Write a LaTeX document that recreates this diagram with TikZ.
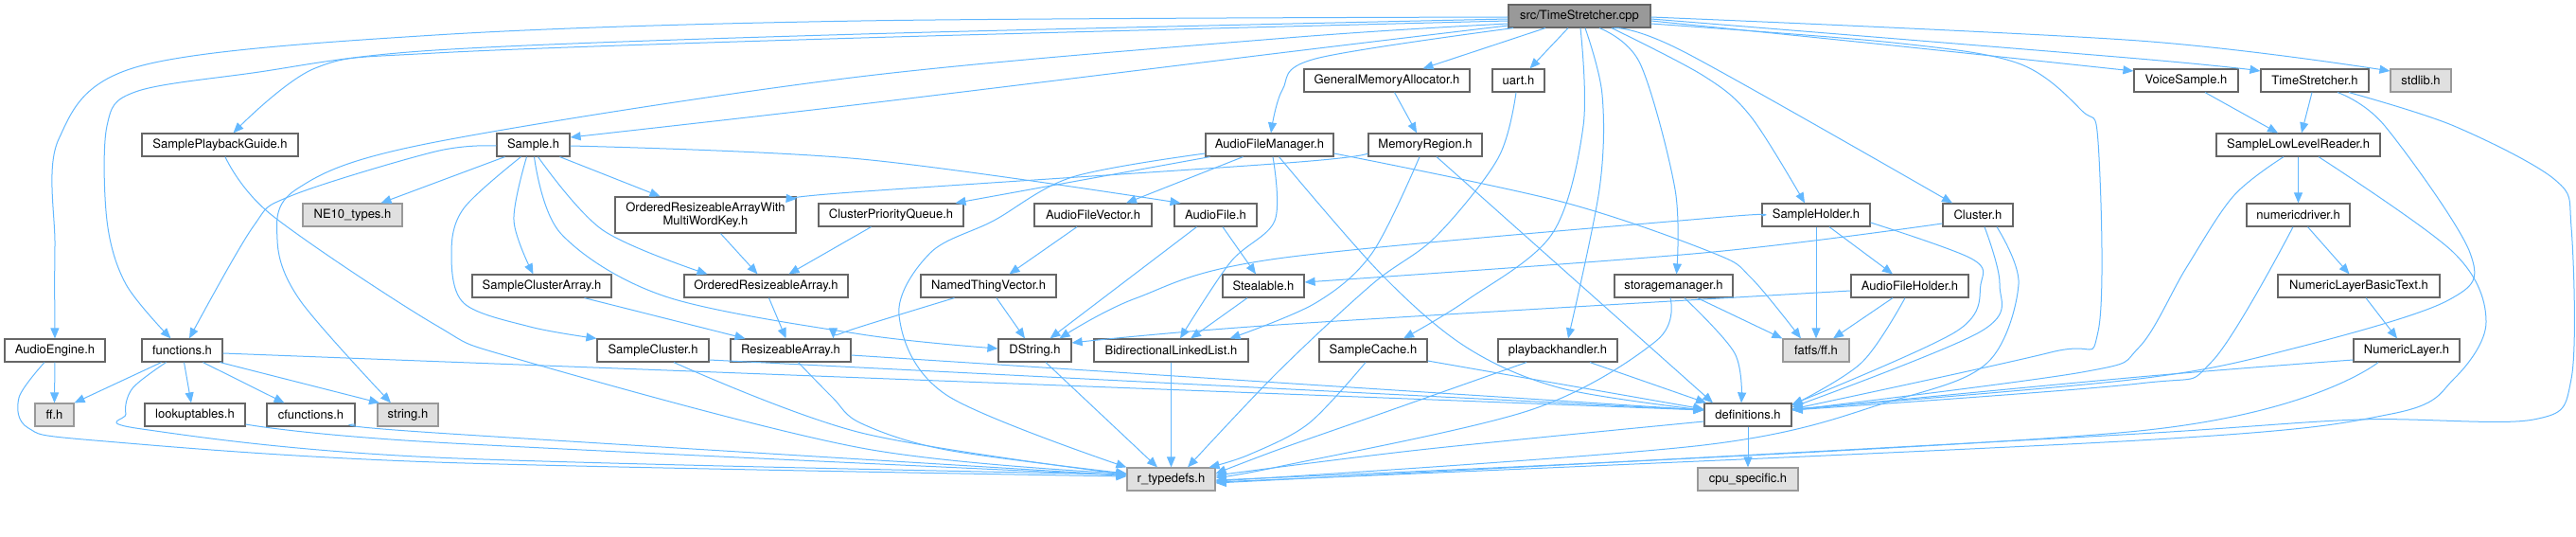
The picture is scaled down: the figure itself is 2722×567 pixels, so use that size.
\documentclass[tikz,border=0pt]{standalone}
\usepackage{fontspec}
\setmainfont{TeX Gyre Heros}
\usetikzlibrary{arrows.meta}
\definecolor{edgec}{HTML}{63B8FF}
\definecolor{boxline}{HTML}{666666}
\definecolor{extfill}{HTML}{E0E0E0}
\definecolor{extline}{HTML}{999999}
\definecolor{rootfill}{HTML}{999999}
\newcommand\dep[1]{\draw[edge] plot[smooth,tension=0.55] coordinates {#1};}
\begin{document}
\begin{tikzpicture}[x=1pt,y=-1pt,
 box/.style={draw=boxline, fill=white, line width=1.2pt, minimum height=24pt, inner sep=0pt, font=\fontsize{13}{15}\selectfont},
 ext/.style={box, fill=extfill, draw=extline},
 root/.style={box, fill=rootfill, draw=boxline},
 edge/.style={draw=edgec, line width=1pt, -{Triangle[length=11pt,width=9pt]}}]
\useasboundingbox (0,0) rectangle (2722,567);
% nodes
\node[root, minimum width=150pt] (cpp) at (1669,17) {src/TimeStretcher.cpp};
\node[box, minimum width=175pt] (gma) at (1465.5,85) {GeneralMemoryAllocator.h};
\node[box, minimum width=55pt] (uart) at (1604.5,85) {uart.h};
\node[box, minimum width=110pt] (vs) at (2310,85) {VoiceSample.h};
\node[box, minimum width=114pt] (tsh) at (2446,85) {TimeStretcher.h};
\node[ext, minimum width=64pt] (stdlib) at (2558,85) {stdlib.h};
\node[box, minimum width=165pt] (spg) at (232.5,153) {SamplePlaybackGuide.h};
\node[box, minimum width=77pt] (sample) at (563.5,153) {Sample.h};
\node[box, minimum width=135pt] (afm) at (1341.5,153) {AudioFileManager.h};
\node[box, minimum width=120pt] (memr) at (1506,153) {MemoryRegion.h};
\node[box, minimum width=173pt] (sllr) at (2428.5,153) {SampleLowLevelReader.h};
\node[ext, minimum width=105pt] (ne10) at (372.5,227) {NE10\_types.h};
\node[box, minimum width=191pt, minimum height=38pt, align=center, font=\fontsize{13}{14}\selectfont] (orawm) at (745.5,227) {OrderedResizeableArrayWith\\MultiWordKey.h};
\node[box, minimum width=153pt] (cpq) at (941.5,227) {ClusterPriorityQueue.h};
\node[box, minimum width=124pt] (afv) at (1155,227) {AudioFileVector.h};
\node[box, minimum width=87pt] (afile) at (1284.5,227) {AudioFile.h};
\node[box, minimum width=114pt] (sholder) at (1919,227) {SampleHolder.h};
\node[box, minimum width=74pt] (cluster) at (2090,227) {Cluster.h};
\node[box, minimum width=109pt] (ndrv) at (2428.5,227) {numericdriver.h};
\node[box, minimum width=147pt] (sca) at (572.5,302) {SampleClusterArray.h};
\node[box, minimum width=173pt] (ora) at (809.5,302) {OrderedResizeableArray.h};
\node[box, minimum width=143pt] (ntv) at (1044.5,302) {NamedThingVector.h};
\node[box, minimum width=86pt] (steal) at (1335,302) {Stealable.h};
\node[box, minimum width=125pt] (stor) at (1768.5,302) {storagemanager.h};
\node[box, minimum width=124pt] (afh) at (2018,302) {AudioFileHolder.h};
\node[box, minimum width=171pt] (nlbt) at (2492.5,302) {NumericLayerBasicText.h};
\node[box, minimum width=106pt] (aeng) at (58,370) {AudioEngine.h};
\node[box, minimum width=85pt] (func) at (192.5,370) {functions.h};
\node[box, minimum width=118pt] (scl) at (690,370) {SampleCluster.h};
\node[box, minimum width=127pt] (rarr) at (835.5,370) {ResizeableArray.h};
\node[box, minimum width=77pt] (dstr) at (1093.5,370) {DString.h};
\node[box, minimum width=163pt] (bll) at (1237.5,370) {BidirectionalLinkedList.h};
\node[box, minimum width=114pt] (scache) at (1451,370) {SampleCache.h};
\node[box, minimum width=126pt] (pbh) at (1646,370) {playbackhandler.h};
\node[ext, minimum width=70pt] (fatfs) at (1919,370) {fatfs/ff.h};
\node[box, minimum width=112pt] (nlayer) at (2543,370) {NumericLayer.h};
\node[ext, minimum width=41pt] (ffh) at (57.5,438) {ff.h};
\node[box, minimum width=106pt] (lut) at (206,438) {lookuptables.h};
\node[box, minimum width=93pt] (cfunc) at (328.5,438) {cfunctions.h};
\node[ext, minimum width=64pt] (strh) at (431,438) {string.h};
\node[box, minimum width=92pt] (defs) at (1847,438) {definitions.h};
\node[ext, minimum width=93pt] (rtd) at (1237.5,506) {r\_typedefs.h};
\node[ext, minimum width=106pt] (cpu) at (1847,506) {cpu\_specific.h};
% edges from cpp
\dep{([yshift=-1]cpp.west) (910,22) (460,37) (147,70) (62,147) (58,260) (aeng.north)}
\dep{([yshift=-3]cpp.west) (910,36) (460,53) (267,77) (143,97) (113,133) (113,233) (133,300) ([xshift=-12]func.north)}
\dep{([yshift=-5]cpp.west) (910,40) (460,56) (333,72) ([xshift=14]spg.north)}
\dep{([yshift=-8]cpp.west) (1360,40) (900,82) (450,152) (313,200) (293,253) (317,317) ([xshift=-18]strh.north)}
\dep{([yshift=-10]cpp.west) (1360,55) (910,110) ([yshift=8]sample.east)}
\dep{([xshift=-70]cpp.south) (1390,62) (1355,95) ([xshift=1.5]afm.north)}
\draw[edge] ([xshift=-36]cpp.south) -- ([xshift=38]gma.north);
\draw[edge] ([xshift=-12]cpp.south) -- ([xshift=12]uart.north);
\dep{([xshift=1]cpp.south) (1673,133) (1640,247) (1550,317) ([xshift=32]scache.north)}
\dep{([xshift=6]cpp.south) (1693,100) (1690,200) ([xshift=11]pbh.north)}
\dep{([xshift=21]cpp.south) (1733,67) (1770,200) ([xshift=3]stor.north)}
\dep{([xshift=34]cpp.south) (1800,80) (1850,123) ([xshift=-12]sholder.north)}
\dep{([xshift=36]cpp.south) (1780,55) ([xshift=-27]cluster.north)}
\dep{([yshift=-8]cpp.east) (2000,45) (2133,67) (2200,117) (2217,150) (2217,350) (2167,372) ([yshift=6]defs.east)}
\dep{([yshift=-5]cpp.east) (2000,48) ([yshift=10]vs.west)}
\dep{([yshift=-3]cpp.east) (2260,62) ([yshift=10]tsh.west)}
\dep{([yshift=-1]cpp.east) (2260,43) ([yshift=10]stdlib.west)}
% left side
\draw[edge] (aeng.south) -- (ffh.north);
\dep{([xshift=-11]aeng.south) (20,420) (30,452) (100,465) (460,488) ([yshift=3]rtd.west)}
\draw[edge] ([xshift=-22]func.south) -- (ffh.north east);
\draw[edge] ([xshift=2]func.south) -- ([xshift=-4]lut.north);
\draw[edge] ([xshift=22]func.south) -- ([xshift=-28]cfunc.north);
\draw[edge] ([xshift=40]func.south) -- ([xshift=-30]strh.north);
\dep{([xshift=-17]func.south) (140,410) (133,437) (150,453) (460,483) ([yshift=5]rtd.west)}
\draw[edge] ([yshift=-3]func.east) -- ([yshift=5]defs.west);
\dep{([yshift=-10]lut.east) (460,467) ([yshift=4]rtd.west)}
\dep{([yshift=-10]cfunc.east) (460,457) ([yshift=4]rtd.west)}
\dep{([xshift=5.5]spg.south) (287,227) (460,343) (550,380) (910,473) ([yshift=6]rtd.west)}
% Sample.h
\dep{([yshift=-1]sample.west) (460,160) (307,207) (267,240) ([xshift=7.5]func.north)}
\draw[edge] ([xshift=-30]sample.south) -- ([xshift=30]ne10.north);
\draw[edge] ([xshift=28]sample.south) -- ([xshift=-48]orawm.north);
\dep{([xshift=5]sample.south) (637,243) ([xshift=-62]ora.north)}
\dep{([xshift=-7]sample.south) (543,233) ([xshift=-9]sca.north)}
\dep{([xshift=-13]sample.south) (490,220) (477,267) (490,320) (560,345) (scl.north west)}
\dep{([xshift=1]sample.south) (593,247) (703,313) (910,353) ([yshift=2]dstr.west)}
\dep{([yshift=-1]sample.east) (910,168) ([xshift=-37]afile.north)}
\draw[edge] ([xshift=16]orawm.south) -- ([xshift=-9]ora.north);
\draw[edge] ([xshift=-21]cpq.south) -- ([xshift=24]ora.north);
\draw[edge] ([xshift=3]ora.south) -- ([xshift=-5]rarr.north);
\draw[edge] ([xshift=45]sca.south) -- ([xshift=-48]rarr.north);
\dep{([xshift=-36]ntv.south) (900,348) ([xshift=45]rarr.north)}
\dep{([xshift=8]rarr.south) (880,420) (910,447) (1000,475) ([yshift=6]rtd.west)}
\draw[edge] ([yshift=-5]rarr.east) -- ([yshift=5]defs.west);
\dep{([xshift=22]scl.south) (910,457) ([yshift=5]rtd.west)}
\draw[edge] ([yshift=-10]scl.east) -- ([yshift=5]defs.west);
% AudioFileManager
\draw[edge] ([xshift=-63]afm.south) -- ([xshift=68]cpq.north);
\draw[edge] ([xshift=-28]afm.south) -- ([xshift=35]afv.north);
\dep{([yshift=-9]afm.west) (1133,187) (1050,233) (983,267) (950,333) (1000,417) (rtd.north west)}
\dep{([xshift=3.5]afm.south) (1347,233) (1300,277) ([xshift=9.5]bll.north)}
\dep{([xshift=10]afm.south) (1460,290) (1550,367) (1650,410) ([yshift=5]defs.west)}
\dep{([yshift=-9]afm.east) (1650,213) (1810,267) (1850,293) ([xshift=-16]fatfs.north)}
\dep{([yshift=-9]memr.west) (1360,172) (900,203) ([yshift=17]orawm.east)}
\dep{([xshift=-6]memr.south) (1450,267) (1390,320) ([xshift=62]bll.north)}
\draw[edge] ([xshift=12]memr.south) -- ([xshift=-37]defs.north);
\draw[edge] ([xshift=8]gma.south) -- ([xshift=-9]memr.north);
\dep{([xshift=-2.5]uart.south) (1583,167) (1517,250) (1450,300) (1350,393) ([xshift=17.5]rtd.north)}
\draw[edge] ([xshift=-20]afile.south) -- ([xshift=16]dstr.north);
\draw[edge] ([xshift=7.5]afile.south) -- ([xshift=-8]steal.north);
\draw[edge] ([xshift=-17]afv.south) -- ([xshift=22]ntv.north);
\draw[edge] ([xshift=8.5]ntv.south) -- ([xshift=-10.5]dstr.north);
\draw[edge] ([xshift=-17]steal.south) -- ([xshift=20.5]bll.north);
\draw[edge] ([xshift=11.5]dstr.south) -- ([xshift=-14.5]rtd.north);
\draw[edge] (bll.south) -- (rtd.north);
\dep{([xshift=-8]scache.south) (1383,447) (1320,480) ([xshift=40]rtd.north)}
\draw[edge] ([yshift=-11]scache.east) -- ([yshift=6]defs.west);
\dep{([xshift=-33]pbh.south) (1450,440) (1350,475) ([yshift=6]rtd.east)}
\draw[edge] ([xshift=34]pbh.south) -- ([xshift=-44]defs.north);
\dep{([xshift=-3.5]stor.south) (1750,360) (1617,433) (1350,493) ([yshift=2]rtd.east)}
\dep{([xshift=11.5]stor.south) (1833,373) ([xshift=-7]defs.north)}
\draw[edge] ([xshift=25]stor.south) -- (fatfs.north west);
\dep{([yshift=-1]sholder.west) (1810,230) (1350,273) (1200,315) ([xshift=26]dstr.north)}
\draw[edge] (sholder.south) -- (fatfs.north);
\draw[edge] ([xshift=14]sholder.south) -- ([xshift=-18]afh.north);
\dep{([yshift=-8]sholder.east) (2083,273) (2093,300) (2067,350) ([yshift=11]defs.east)}
\dep{([yshift=-5]afh.west) (1350,343) ([yshift=8]dstr.east)}
\draw[edge] ([xshift=-18]afh.south) -- ([xshift=18]fatfs.north);
\dep{([xshift=-5]afh.south) (1967,383) ([yshift=10]defs.east)}
\dep{([yshift=-9]cluster.west) (1800,267) ([yshift=4]steal.east)}
\dep{([xshift=7]cluster.south) (2113,300) (2093,350) ([yshift=8]defs.east)}
\dep{([xshift=20]cluster.south) (2133,300) (2100,383) (2000,423) (1800,470) ([yshift=-2]rtd.east)}
\draw[edge] (defs.south) -- (cpu.north);
\dep{([yshift=-7]defs.west) (1500,475) ([yshift=4]rtd.east)}
% right side
\draw[edge] ([xshift=20]vs.south) -- ([xshift=-21.5]sllr.north);
\draw[edge] ([xshift=-3]tsh.south) -- ([xshift=3.5]sllr.north);
\dep{([xshift=24]tsh.south) (2520,133) (2610,267) (2587,317) (2427,367) (2260,400) ([yshift=6]defs.east)}
\dep{([xshift=36]tsh.south) (2593,133) (2700,190) (2717,240) (2717,400) (2677,443) (2493,443) (2260,458) (1800,483) ([yshift=-4]rtd.east)}
\draw[edge] (sllr.south) -- (ndrv.north);
\dep{([xshift=-15.5]sllr.south) (2360,207) (2310,283) (2260,367) (2200,393) ([yshift=5]defs.east)}
\dep{([xshift=21.5]sllr.south) (2593,267) (2627,340) (2593,400) (2527,437) (2260,465) ([yshift=-3]rtd.east)}
\draw[edge] ([xshift=10]ndrv.south) -- ([xshift=-10]nlbt.north);
\dep{([xshift=-5.5]ndrv.south) (2337,382) (2260,405) ([yshift=5]defs.east)}
\draw[edge] ([xshift=7.5]nlbt.south) -- ([xshift=-10]nlayer.north);
\dep{([yshift=-10]nlayer.west) (2260,398) ([yshift=5]defs.east)}
\dep{([xshift=-30]nlayer.south) (2260,455) ([yshift=-1]rtd.east)}
\end{tikzpicture}
\end{document}
